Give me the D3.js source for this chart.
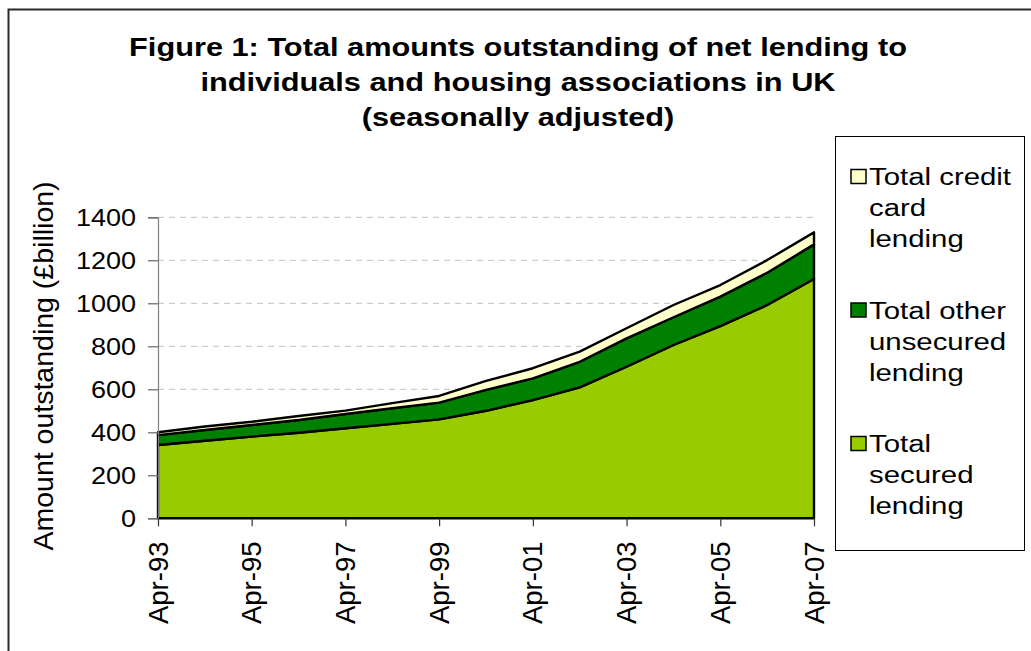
<!DOCTYPE html>
<html>
<head>
<meta charset="utf-8">
<script src="https://cdn.jsdelivr.net/npm/d3@7"></script>
<style>
  html, body { margin: 0; padding: 0; background: #fff; }
  svg { display: block; font-family: "Liberation Sans", Arial, sans-serif; }
</style>
</head>
<body>
<svg id="chart" width="1031" height="651"></svg>
<script>
// Amounts outstanding (£billion), April of each year
const months = ["1993-04","1994-04","1995-04","1996-04","1997-04","1998-04","1999-04","2000-04",
                "2001-04","2002-04","2003-04","2004-04","2005-04","2006-04","2007-04"];
const securedLending   = [341, 361, 380, 398, 419, 439, 460, 500, 550, 609, 705, 806, 894, 992, 1113];
const otherUnsecured   = [ 46,  50,  54,  59,  66,  73,  78,  97, 101, 119, 132, 129, 137, 150,  161];
const creditCard       = [ 13,  16,  15,  19,  16,  24,  31,  42,  47,  47,  47,  57,  54,  59,   56];

const yTicks = [0, 200, 400, 600, 800, 1000, 1200, 1400];
const xTickLabels = ["Apr-93","Apr-95","Apr-97","Apr-99","Apr-01","Apr-03","Apr-05","Apr-07"];

const titleLines = [
  "Figure 1: Total amounts outstanding of net lending to",
  "individuals and housing associations in UK",
  "(seasonally adjusted)"
];
const seriesKeys   = ["secured", "other", "credit"];
const seriesNames  = { credit: ["Total credit", "card", "lending"],
                       other: ["Total other", "unsecured", "lending"],
                       secured: ["Total", "secured", "lending"] };
const seriesColors = { secured: "#99CC00", other: "#008000", credit: "#FFFFCC" };

const parse = d3.timeParse("%Y-%m");
const rows = months.map((m, i) => ({
  date: parse(m), secured: securedLending[i], other: otherUnsecured[i], credit: creditCard[i]
}));

const svg = d3.select("#chart");

// outer frame
svg.append("rect")
  .attr("x", 8.5).attr("y", 9.5).attr("width", 1100).attr("height", 1000)
  .attr("fill", "none").attr("stroke", "#2a2a2a").attr("stroke-width", 2);

// plot geometry
const plotLeft = 158, plotRight = 814, plotTop = 217.3, plotBottom = 518.3;

const x = d3.scaleTime().domain([parse("1993-04"), parse("2007-04")]).range([plotLeft, plotRight]);
const y = d3.scaleLinear().domain([0, 1400]).range([plotBottom, plotTop]);

// grid lines
svg.append("g").selectAll("line")
  .data(yTicks.filter(v => v > 0))
  .join("line")
  .attr("x1", plotLeft).attr("x2", plotRight)
  .attr("y1", d => y(d)).attr("y2", d => y(d))
  .attr("stroke", "#c0c0c0").attr("stroke-width", 1)
  .attr("stroke-dasharray", "6,5");

// stacked areas
const stack = d3.stack().keys(seriesKeys);
const layers = stack(rows);
const area = d3.area()
  .x(d => x(d.data.date))
  .y0(d => y(d[0]))
  .y1(d => y(d[1]));

svg.append("g").selectAll("path")
  .data(layers)
  .join("path")
  .attr("d", area)
  .attr("fill", d => seriesColors[d.key])
  .attr("stroke", "#000")
  .attr("stroke-width", 2.4)
  .attr("stroke-linejoin", "round");

// y axis
const yAxis = svg.append("g").attr("transform", `translate(${plotLeft},0)`)
  .call(d3.axisLeft(y).tickValues(yTicks).tickSize(10).tickFormat(""));
yAxis.select(".domain").attr("stroke", "#808080").attr("stroke-width", 1.2);
yAxis.selectAll(".tick line").attr("stroke", "#666").attr("stroke-width", 1.2);

svg.append("g").selectAll("text")
  .data(yTicks)
  .join("text")
  .attr("transform", d => `translate(136,${y(d) + 8.5}) scale(1.15,1)`)
  .attr("text-anchor", "end")
  .attr("font-size", 23.5)
  .attr("fill", "#000")
  .text(d => d);

// x axis ticks every two years
const xTickDates = months.filter((m, i) => i % 2 === 0).map(parse);
const xAxis = svg.append("g").attr("transform", `translate(0,${plotBottom})`)
  .call(d3.axisBottom(x).tickValues(xTickDates).tickSize(8).tickFormat(""));
xAxis.select(".domain").remove();
xAxis.selectAll(".tick line").attr("stroke", "#333").attr("stroke-width", 1.2);

svg.append("g").selectAll("text")
  .data(xTickDates)
  .join("text")
  .attr("transform", (d, i) => `translate(${x(d) + 9.5},541.5) rotate(-90)`)
  .attr("text-anchor", "end")
  .attr("font-size", 27.5)
  .attr("fill", "#000")
  .text((d, i) => xTickLabels[i]);

// y axis title
svg.append("text")
  .attr("transform", "translate(53,366) rotate(-90)")
  .attr("text-anchor", "middle")
  .attr("font-size", 28.5)
  .attr("fill", "#000")
  .text("Amount outstanding (£billion)");

// chart title
svg.append("g").selectAll("text")
  .data(titleLines)
  .join("text")
  .attr("transform", (d, i) => `translate(518,${56 + i * 35}) scale(1.16,1)`)
  .attr("text-anchor", "middle")
  .attr("font-size", 26.5)
  .attr("font-weight", "bold")
  .attr("fill", "#000")
  .text(d => d);

// legend
const legend = svg.append("g");
legend.append("rect")
  .attr("x", 835.5).attr("y", 136.5).attr("width", 189).attr("height", 414)
  .attr("fill", "#fff").attr("stroke", "#000").attr("stroke-width", 1);

const legendOrder = ["credit", "other", "secured"];
const item = legend.selectAll("g.item")
  .data(legendOrder)
  .join("g")
  .attr("class", "item")
  .attr("transform", (d, i) => `translate(0,${185 + i * 133.5})`);

item.append("rect")
  .attr("x", 851).attr("y", -15.5).attr("width", 15).attr("height", 14)
  .attr("fill", d => seriesColors[d])
  .attr("stroke", "#000").attr("stroke-width", 1.5);

item.selectAll("text")
  .data(d => seriesNames[d])
  .join("text")
  .attr("transform", (t, j) => `translate(869,${j * 31}) scale(1.25,1)`)
  .attr("font-size", 23.5)
  .attr("fill", "#000")
  .text(t => t);
</script>
</body>
</html>
